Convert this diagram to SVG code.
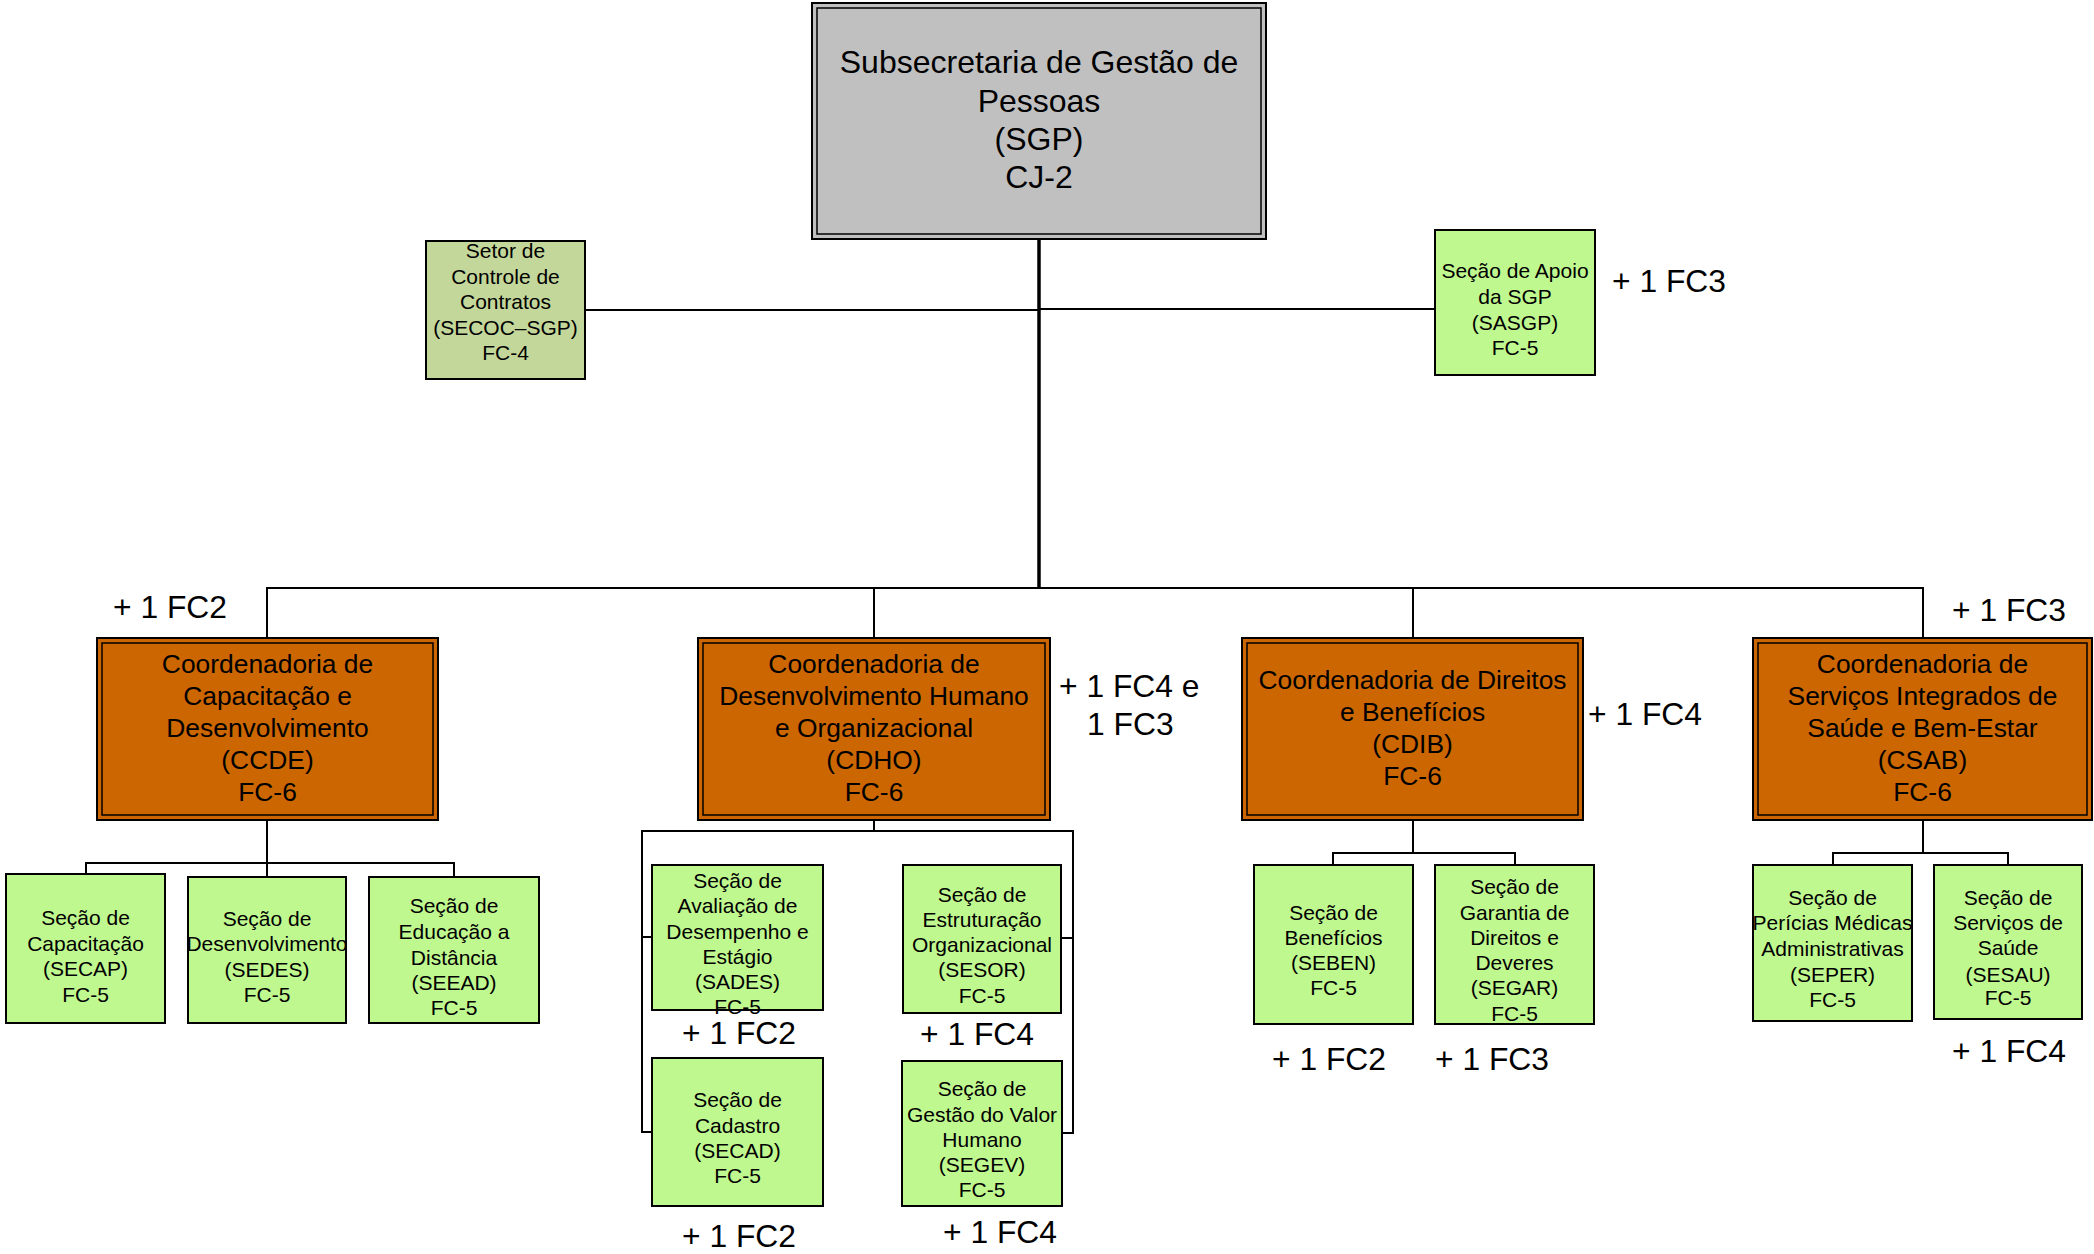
<svg xmlns="http://www.w3.org/2000/svg" width="2094" height="1254" viewBox="0 0 2094 1254">
<style>
text{font-family:"Liberation Sans",Arial,sans-serif;fill:#000}
.c{text-anchor:middle}
.s{font-size:21px}
.o{font-size:26.4px}
.g{font-size:32px}
.lab{font-size:31.8px}
.green{fill:#c0f890;stroke:#000;stroke-width:2}
.olive{fill:#c4d79b;stroke:#000;stroke-width:2}
.orange{fill:#cc6600;stroke:#000;stroke-width:2}
.inner{fill:none;stroke:#000;stroke-width:1.5}
.gray{fill:#c0c0c0;stroke:#000;stroke-width:2}
.conn line{stroke:#000;stroke-width:2}
</style>
<rect width="2094" height="1254" fill="#fff"/>
<g id="connectors" class="conn">
<line x1="1039" y1="239" x2="1039" y2="589" style="stroke-width:3.5"/>
<line x1="585" y1="310" x2="1039" y2="310"/>
<line x1="1039" y1="309" x2="1435" y2="309"/>
<line x1="266" y1="588" x2="1924" y2="588"/>
<line x1="267" y1="588" x2="267" y2="638"/>
<line x1="874" y1="588" x2="874" y2="638"/>
<line x1="1413" y1="588" x2="1413" y2="638"/>
<line x1="1923" y1="588" x2="1923" y2="638"/>
<line x1="267" y1="820" x2="267" y2="877"/>
<line x1="85" y1="863" x2="455" y2="863"/>
<line x1="86" y1="862" x2="86" y2="874"/>
<line x1="454" y1="862" x2="454" y2="877"/>
<line x1="874" y1="820" x2="874" y2="831"/>
<line x1="641" y1="831" x2="1074" y2="831"/>
<line x1="642" y1="830" x2="642" y2="1133"/>
<line x1="641" y1="937" x2="652" y2="937"/>
<line x1="641" y1="1132" x2="652" y2="1132"/>
<line x1="1073" y1="830" x2="1073" y2="1134"/>
<line x1="1061" y1="938" x2="1074" y2="938"/>
<line x1="1062" y1="1133" x2="1074" y2="1133"/>
<line x1="1413" y1="820" x2="1413" y2="853"/>
<line x1="1332" y1="853" x2="1516" y2="853"/>
<line x1="1333" y1="852" x2="1333" y2="865"/>
<line x1="1515" y1="852" x2="1515" y2="865"/>
<line x1="1923" y1="820" x2="1923" y2="853"/>
<line x1="1832" y1="853" x2="2009" y2="853"/>
<line x1="1833" y1="852" x2="1833" y2="865"/>
<line x1="2008" y1="852" x2="2008" y2="865"/>
</g>
<g id="SGP">
<rect class="gray" x="812" y="3" width="454" height="236"/>
<rect class="inner" x="817" y="8" width="444" height="226"/>
<text class="c g" x="1039" y="73">Subsecretaria de Gestão de</text>
<text class="c g" x="1039" y="112">Pessoas</text>
<text class="c g" x="1039" y="150">(SGP)</text>
<text class="c g" x="1039" y="188">CJ-2</text>
</g>
<g id="SECOC">
<rect class="olive" x="426" y="241" width="159" height="138"/>
<text class="c s" x="505.5" y="258">Setor de</text>
<text class="c s" x="505.5" y="284">Controle de</text>
<text class="c s" x="505.5" y="309">Contratos</text>
<text class="c s" x="505.5" y="335">(SECOC–SGP)</text>
<text class="c s" x="505.5" y="360">FC-4</text>
</g>
<g id="SASGP">
<rect class="green" x="1435" y="230" width="160" height="145"/>
<text class="c s" x="1515" y="278">Seção de Apoio</text>
<text class="c s" x="1515" y="304">da SGP</text>
<text class="c s" x="1515" y="330">(SASGP)</text>
<text class="c s" x="1515" y="355">FC-5</text>
<text class="lab" x="1612" y="292">+ 1 FC3</text>
</g>
<g id="CCDE">
<rect class="orange" x="97" y="638" width="341" height="182"/>
<rect class="inner" x="102" y="643" width="331" height="172"/>
<text class="c o" x="267.5" y="673">Coordenadoria de</text>
<text class="c o" x="267.5" y="705">Capacitação e</text>
<text class="c o" x="267.5" y="737">Desenvolvimento</text>
<text class="c o" x="267.5" y="769">(CCDE)</text>
<text class="c o" x="267.5" y="801">FC-6</text>
<text class="lab" x="113" y="618">+ 1 FC2</text>
</g>
<g id="CDHO">
<rect class="orange" x="698" y="638" width="352" height="182"/>
<rect class="inner" x="703" y="643" width="342" height="172"/>
<text class="c o" x="874" y="673">Coordenadoria de</text>
<text class="c o" x="874" y="705">Desenvolvimento Humano</text>
<text class="c o" x="874" y="737">e Organizacional</text>
<text class="c o" x="874" y="769">(CDHO)</text>
<text class="c o" x="874" y="801">FC-6</text>
<text class="lab" x="1059" y="697">+ 1 FC4 e</text>
<text class="lab" x="1087" y="735">1 FC3</text>
</g>
<g id="CDIB">
<rect class="orange" x="1242" y="638" width="341" height="182"/>
<rect class="inner" x="1247" y="643" width="331" height="172"/>
<text class="c o" x="1412.5" y="689">Coordenadoria de Direitos</text>
<text class="c o" x="1412.5" y="721">e Benefícios</text>
<text class="c o" x="1412.5" y="753">(CDIB)</text>
<text class="c o" x="1412.5" y="785">FC-6</text>
<text class="lab" x="1588" y="725">+ 1 FC4</text>
</g>
<g id="CSAB">
<rect class="orange" x="1753" y="638" width="339" height="182"/>
<rect class="inner" x="1758" y="643" width="329" height="172"/>
<text class="c o" x="1922.5" y="673">Coordenadoria de</text>
<text class="c o" x="1922.5" y="705">Serviços Integrados de</text>
<text class="c o" x="1922.5" y="737">Saúde e Bem-Estar</text>
<text class="c o" x="1922.5" y="769">(CSAB)</text>
<text class="c o" x="1922.5" y="801">FC-6</text>
<text class="lab" x="1952" y="621">+ 1 FC3</text>
</g>
<g id="SECAP">
<rect class="green" x="6" y="874" width="159" height="149"/>
<text class="c s" x="85.5" y="925">Seção de</text>
<text class="c s" x="85.5" y="951">Capacitação</text>
<text class="c s" x="85.5" y="976">(SECAP)</text>
<text class="c s" x="85.5" y="1002">FC-5</text>
</g>
<g id="SEDES">
<rect class="green" x="188" y="877" width="158" height="146"/>
<text class="c s" x="267" y="926">Seção de</text>
<text class="c s" x="267" y="951">Desenvolvimento</text>
<text class="c s" x="267" y="977">(SEDES)</text>
<text class="c s" x="267" y="1002">FC-5</text>
</g>
<g id="SEEAD">
<rect class="green" x="369" y="877" width="170" height="146"/>
<text class="c s" x="454" y="913">Seção de</text>
<text class="c s" x="454" y="939">Educação a</text>
<text class="c s" x="454" y="965">Distância</text>
<text class="c s" x="454" y="990">(SEEAD)</text>
<text class="c s" x="454" y="1015">FC-5</text>
</g>
<g id="SADES">
<rect class="green" x="652" y="865" width="171" height="145"/>
<text class="c s" x="737.5" y="888">Seção de</text>
<text class="c s" x="737.5" y="913">Avaliação de</text>
<text class="c s" x="737.5" y="939">Desempenho e</text>
<text class="c s" x="737.5" y="964">Estágio</text>
<text class="c s" x="737.5" y="989">(SADES)</text>
<text class="c s" x="737.5" y="1014">FC-5</text>
<text class="lab" x="682" y="1044">+ 1 FC2</text>
</g>
<g id="SESOR">
<rect class="green" x="903" y="865" width="158" height="148"/>
<text class="c s" x="982" y="902">Seção de</text>
<text class="c s" x="982" y="927">Estruturação</text>
<text class="c s" x="982" y="952">Organizacional</text>
<text class="c s" x="982" y="977">(SESOR)</text>
<text class="c s" x="982" y="1003">FC-5</text>
<text class="lab" x="920" y="1045">+ 1 FC4</text>
</g>
<g id="SECAD">
<rect class="green" x="652" y="1058" width="171" height="148"/>
<text class="c s" x="737.5" y="1107">Seção de</text>
<text class="c s" x="737.5" y="1133">Cadastro</text>
<text class="c s" x="737.5" y="1158">(SECAD)</text>
<text class="c s" x="737.5" y="1183">FC-5</text>
<text class="lab" x="682" y="1247">+ 1 FC2</text>
</g>
<g id="SEGEV">
<rect class="green" x="902" y="1061" width="160" height="145"/>
<text class="c s" x="982" y="1096">Seção de</text>
<text class="c s" x="982" y="1122">Gestão do Valor</text>
<text class="c s" x="982" y="1147">Humano</text>
<text class="c s" x="982" y="1172">(SEGEV)</text>
<text class="c s" x="982" y="1197">FC-5</text>
<text class="lab" x="943" y="1243">+ 1 FC4</text>
</g>
<g id="SEBEN">
<rect class="green" x="1254" y="865" width="159" height="159"/>
<text class="c s" x="1333.5" y="920">Seção de</text>
<text class="c s" x="1333.5" y="945">Benefícios</text>
<text class="c s" x="1333.5" y="970">(SEBEN)</text>
<text class="c s" x="1333.5" y="995">FC-5</text>
<text class="lab" x="1272" y="1070">+ 1 FC2</text>
</g>
<g id="SEGAR">
<rect class="green" x="1435" y="865" width="159" height="159"/>
<text class="c s" x="1514.5" y="894">Seção de</text>
<text class="c s" x="1514.5" y="920">Garantia de</text>
<text class="c s" x="1514.5" y="945">Direitos e</text>
<text class="c s" x="1514.5" y="970">Deveres</text>
<text class="c s" x="1514.5" y="995">(SEGAR)</text>
<text class="c s" x="1514.5" y="1021">FC-5</text>
<text class="lab" x="1435" y="1070">+ 1 FC3</text>
</g>
<g id="SEPER">
<rect class="green" x="1753" y="865" width="159" height="156"/>
<text class="c s" x="1832.5" y="905">Seção de</text>
<text class="c s" x="1832.5" y="930">Perícias Médicas</text>
<text class="c s" x="1832.5" y="956">Administrativas</text>
<text class="c s" x="1832.5" y="982">(SEPER)</text>
<text class="c s" x="1832.5" y="1007">FC-5</text>
</g>
<g id="SESAU">
<rect class="green" x="1934" y="865" width="148" height="154"/>
<text class="c s" x="2008" y="905">Seção de</text>
<text class="c s" x="2008" y="930">Serviços de</text>
<text class="c s" x="2008" y="955">Saúde</text>
<text class="c s" x="2008" y="982">(SESAU)</text>
<text class="c s" x="2008" y="1005">FC-5</text>
<text class="lab" x="1952" y="1062">+ 1 FC4</text>
</g>
</svg>
